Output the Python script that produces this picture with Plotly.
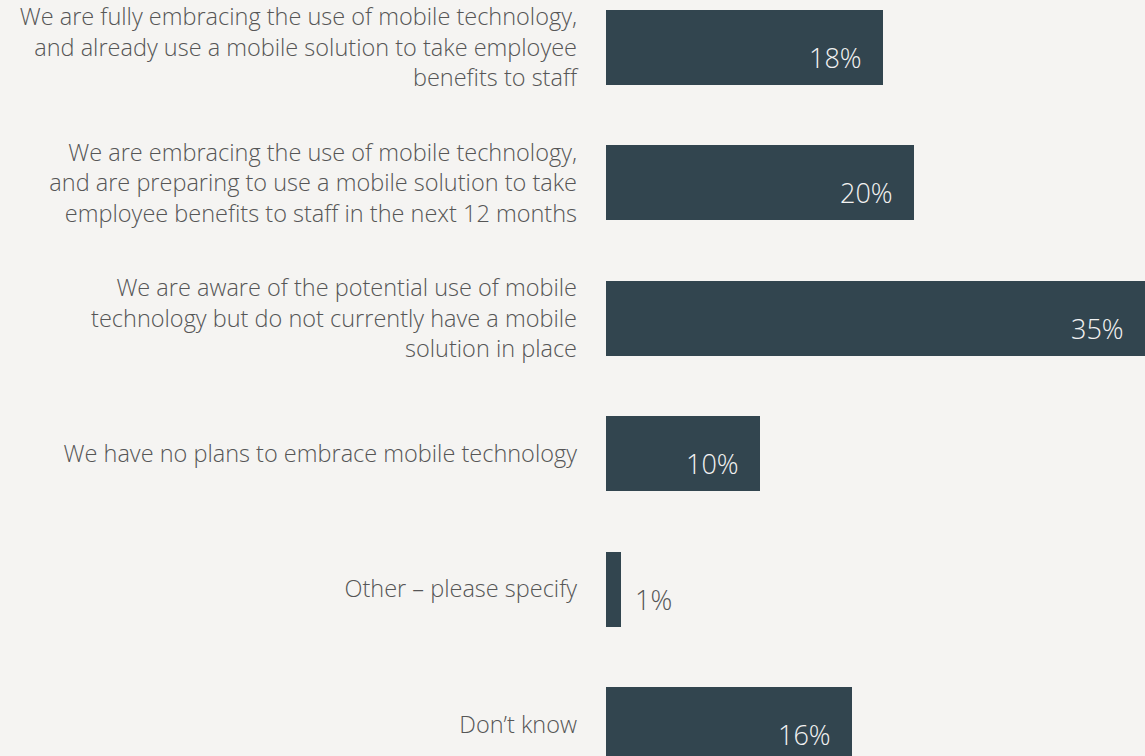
import plotly.graph_objects as go

categories = [
    "We are fully embracing the use of mobile technology,<br>and already use a mobile solution to take employee<br>benefits to staff",
    "We are embracing the use of mobile technology,<br>and are preparing to use a mobile solution to take<br>employee benefits to staff in the next 12 months",
    "We are aware of the potential use of mobile<br>technology but do not currently have a mobile<br>solution in place",
    "We have no plans to embrace mobile technology",
    "Other – please specify",
    "Don’t know",
]
values = [18, 20, 35, 10, 1, 16]
value_labels = ["18%", "20%", "35%", "10%", "1%", "16%"]

BG = "#f5f4f2"
BAR = "#32454f"
TEXT = "#565656"
FONT = "Open Sans"

fig = go.Figure()
fig.add_trace(go.Bar(
    x=values,
    y=list(range(len(categories))),
    orientation="h",
    marker=dict(color=BAR, line=dict(width=0)),
    width=0.554,
    hoverinfo="skip",
))

for i, (v, lab) in enumerate(zip(values, value_labels)):
    inside = v >= 5
    fig.add_annotation(
        x=v, y=i, xref="x", yref="y",
        text=lab, showarrow=False,
        xanchor="right" if inside else "left",
        xshift=-19 if inside else 12,
        yshift=-10,
        font=dict(family=FONT, size=27, color="#f2f2f2" if inside else TEXT, weight=300),
    )

fig.update_layout(
    width=1145, height=756,
    margin=dict(l=606, r=0, t=0, b=0),
    paper_bgcolor=BG, plot_bgcolor=BG,
    showlegend=False,
    xaxis=dict(range=[0, 35], visible=False, fixedrange=True),
    yaxis=dict(
        range=[5.233, -0.351],
        tickmode="array",
        tickvals=list(range(len(categories))),
        ticktext=categories,
        showgrid=False, zeroline=False, showline=False,
        ticks="", ticklabelstandoff=28, fixedrange=True,
        tickfont=dict(family=FONT, size=23.5, color=TEXT, weight=300),
    ),
    bargap=0,
)

fig.write_html(
    "out.html",
    config={"displayModeBar": False},
    post_script="document.body.style.margin='0';document.body.style.background='" + BG + "';",
)
